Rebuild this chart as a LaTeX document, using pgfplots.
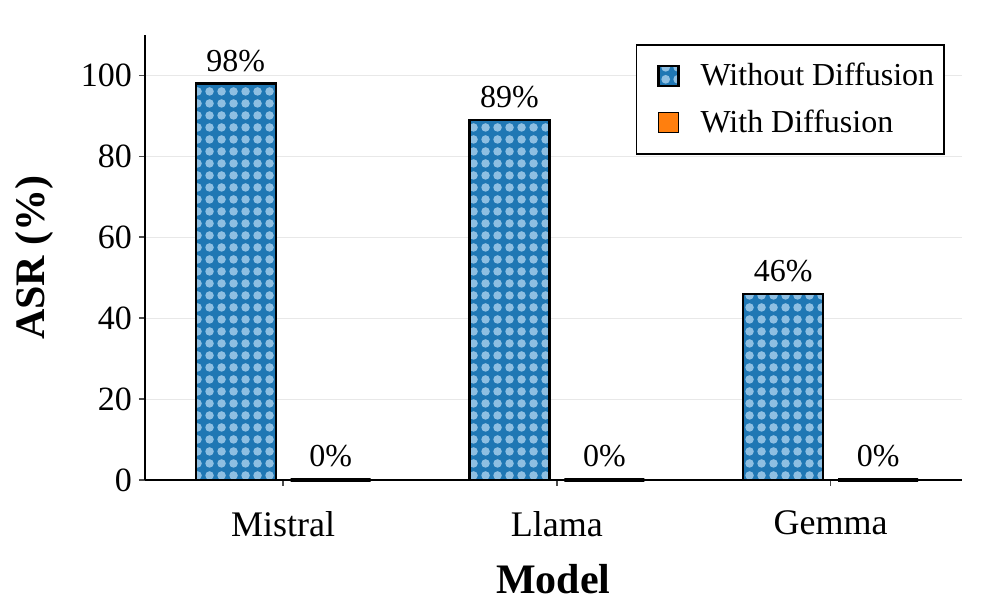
\documentclass[border=0pt]{standalone}
\usepackage{fontspec}
\setmainfont{Liberation Serif}
\usepackage{pgfplots}
\pgfplotsset{compat=1.18}
\usetikzlibrary{patterns}

\definecolor{mblue}{HTML}{1F77B4}
\definecolor{mdot}{HTML}{8EBFE2}
\definecolor{morange}{HTML}{FF7F0E}
\definecolor{gridgray}{HTML}{E8E8E8}

% light dots on the blue bars
\pgfdeclarepatternformonly{bigdots}{\pgfpointorigin}{\pgfpoint{6pt}{6pt}}{\pgfpoint{6pt}{6pt}}{%
  \pgfpathcircle{\pgfpoint{3pt}{3pt}}{2.3pt}\pgfusepath{fill}}

\begin{document}
\begin{tikzpicture}
\begin{axis}[
    scale only axis,
    width=408.5pt, height=222.5pt,
    clip=false,
    ybar=7.5pt, bar width=40pt,
    xmin=-0.505, xmax=2.48,
    ymin=0, ymax=110,
    xtick={0,1,2},
    xticklabels={Mistral, Llama, Gemma},
    ytick={0,20,40,60,80,100},
    axis x line*=bottom, axis y line*=left,
    axis line style={line width=1pt, -},
    tick align=outside, major tick length=3pt,
    tick style={black!70, line width=0.8pt},
    ymajorgrids, grid style={gridgray, line width=0.5pt},
    /pgf/number format/assume math mode=true,
    ticklabel style={font=\fontsize{17}{20}\selectfont},
    xticklabel style={yshift=-9pt, font=\fontsize{18}{21}\selectfont},
    xlabel={\textbf{Model}}, ylabel={\textbf{ASR (\%)}},
    label style={font=\fontsize{21}{24}\selectfont},
    xlabel style={yshift=-7pt},
    ylabel style={yshift=7pt},
    nodes near coords={\pgfmathprintnumber{\pgfplotspointmeta}\%},
    nodes near coords style={font=\fontsize{16}{19}\selectfont, black, yshift=2pt},
    legend style={at={([xshift=-8.5pt,yshift=-4.5pt]axis description cs:1,1)}, anchor=north east,
        font=\fontsize{16}{19}\selectfont, draw=black, line width=0.8pt,
        inner xsep=2pt, inner ysep=7.25pt, row sep=6.5pt},
    legend cell align=left,
    legend image code/.code={
        \path (-8pt,0pt) (10pt,0pt);
        \draw[#1, line width=0.8pt] (0pt,-5pt) rectangle (10pt,5pt);
    },
    legend style={nodes={inner xsep=3pt}},
]
\addplot[draw=black, line width=1.2pt,
    preaction={fill=mblue},
    preaction={pattern=bigdots, pattern color=mdot}]
coordinates {(0,98) (1,89) (2,46)};
\addplot[draw=black, line width=2pt, fill=morange]
coordinates {(0,0) (1,0) (2,0)};
\legend{\hspace{7pt}Without Diffusion, \hspace{7pt}With Diffusion}
\end{axis}
\pgfresetboundingbox
\path[use as bounding box] (-72.5pt,-66.5pt) rectangle (425.5pt,240pt);
\end{tikzpicture}
\end{document}
